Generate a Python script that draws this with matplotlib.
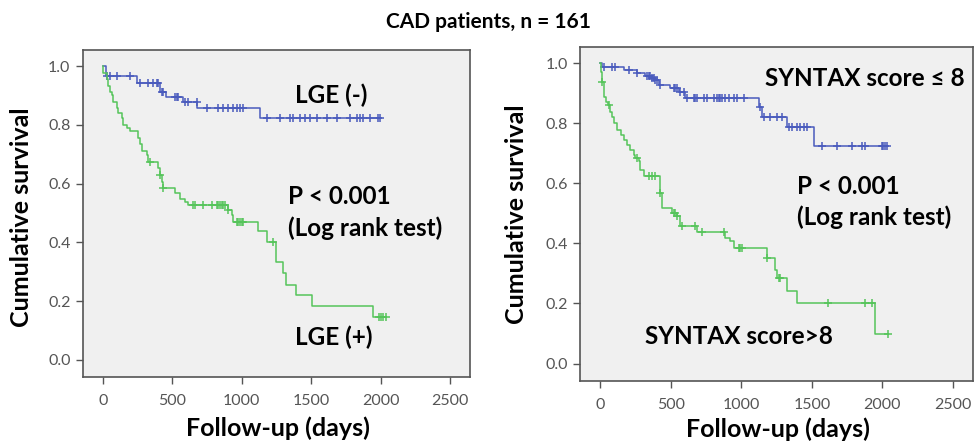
import numpy as np
import matplotlib
matplotlib.use('Agg')
import matplotlib.pyplot as plt

plt.rcParams['font.family'] = ['Lato', 'DejaVu Sans']

TITLE = 'CAD patients, n = 161'
X_TICKS = [0, 500, 1000, 1500, 2000, 2500]
Y_TICKS = [0.0, 0.2, 0.4, 0.6, 0.8, 1.0]

# left panel: LGE (-) / LGE (+)
LGE_NEG_EVENT_DAYS = [20, 243, 411, 454, 579, 680, 1131]
LGE_NEG_SURV = [0.967, 0.941, 0.913, 0.896, 0.879, 0.856, 0.822]
LGE_NEG_CENSOR = [26, 50, 98, 194, 266, 326, 363, 387, 399, 422, 435, 519, 531,
                  543, 591, 615, 675, 747, 831, 867, 903, 939, 963, 987, 1011,
                  1179, 1275, 1347, 1371, 1419, 1455, 1491, 1539, 1611, 1683,
                  1779, 1827, 1851, 1876, 1924, 1984, 1995]

LGE_POS_EVENT_DAYS = [3, 26, 38, 50, 62, 74, 98, 110, 134, 146, 170, 194, 250,
                      266, 278, 314, 326, 395, 411, 422, 435, 519, 555, 591,
                      615, 903, 927, 939, 1119, 1179, 1245, 1299, 1317, 1389,
                      1509, 1948]
LGE_POS_SURV = [0.978, 0.956, 0.933, 0.911, 0.900, 0.878, 0.856, 0.839, 0.822,
                0.800, 0.789, 0.778, 0.756, 0.734, 0.711, 0.697, 0.675, 0.652,
                0.630, 0.607, 0.584, 0.567, 0.549, 0.539, 0.527, 0.510, 0.493,
                0.470, 0.437, 0.402, 0.332, 0.295, 0.255, 0.221, 0.184, 0.147]
LGE_POS_CENSOR = [338, 411, 435, 651, 663, 723, 783, 819, 831, 843, 855, 867,
                  879, 903, 963, 975, 987, 999, 1011, 1227, 1985, 2000, 2015,
                  2040]

# right panel: SYNTAX score <= 8 / > 8
SYN_LOW_EVENT_DAYS = [8, 165, 260, 319, 366, 390, 413, 496, 555, 602, 1121,
                      1145, 1322, 1511]
SYN_LOW_SURV = [0.989, 0.978, 0.967, 0.956, 0.950, 0.944, 0.928, 0.917, 0.906,
                0.883, 0.856, 0.822, 0.789, 0.723]
SYN_LOW_CENSOR = [23, 83, 106, 201, 260, 331, 342, 354, 366, 378, 390, 401,
                  425, 519, 531, 543, 567, 590, 614, 661, 673, 685, 732, 755,
                  803, 826, 838, 850, 861, 885, 909, 944, 968, 1015, 1133, 1157,
                  1204, 1251, 1287, 1334, 1357, 1393, 1416, 1440, 1464, 1570,
                  1676, 1782, 1853, 1877, 1995, 2007, 2019, 2030]

SYN_HIGH_EVENT_DAYS = [5, 14, 28, 40, 52, 64, 83, 94, 118, 142, 165, 189, 212,
                       236, 248, 272, 283, 307, 425, 437, 508, 543, 567, 685,
                       885, 921, 944, 1180, 1239, 1251, 1322, 1393, 1947]
SYN_HIGH_SURV = [0.972, 0.939, 0.889, 0.872, 0.861, 0.839, 0.822, 0.800, 0.778,
                 0.761, 0.744, 0.728, 0.711, 0.695, 0.684, 0.673, 0.645, 0.623,
                 0.568, 0.518, 0.501, 0.490, 0.457, 0.437, 0.418, 0.407, 0.385,
                 0.352, 0.312, 0.285, 0.241, 0.201, 0.100]
SYN_HIGH_CENSOR = [14, 60, 260, 342, 366, 390, 425, 519, 531, 543, 578, 673,
                   720, 873, 980, 992, 1004, 1180, 1263, 1275, 1617, 1877, 1924,
                   2042]

BLUE = '#4a5bbd'
GREEN = '#55c45a'


def km_curve(ax, event_days, surv, censor, color):
    end = max(max(censor), max(event_days))
    t = np.concatenate([[0], event_days, [end]])
    s = np.concatenate([[1.0], surv, [surv[-1]]])
    ax.step(t, s, where='post', color=color, lw=1.1)
    idx = np.searchsorted(t, censor, side='right') - 1
    ax.plot(censor, s[idx], ls='none', marker='+', ms=5.5, mew=1.1, color=color)


def style_axes(ax):
    ax.set_facecolor('#f0f0f0')
    ax.set_xlim(-143, 2643)
    ax.set_ylim(-0.058, 1.054)
    ax.set_xticks(X_TICKS)
    ax.set_yticks(Y_TICKS)
    ax.set_yticklabels(['%.1f' % v for v in Y_TICKS])
    ax.tick_params(labelsize=11.5, colors='#555555', length=5, width=1)
    ax.tick_params(axis='x', pad=7)
    ax.tick_params(axis='y', pad=4)
    for sp in ax.spines.values():
        sp.set_color('#555555')
        sp.set_linewidth(1.2)
    ax.set_xlabel('Follow-up (days)', fontsize=18, fontweight='bold')
    ax.set_ylabel('Cumulative survival', fontsize=18, fontweight='bold')


fig = plt.figure(figsize=(9.77, 4.44), dpi=100)
ax1 = fig.add_axes([0.085, 0.151, 0.396, 0.736])
ax2 = fig.add_axes([0.594, 0.142, 0.402, 0.752])

km_curve(ax1, LGE_NEG_EVENT_DAYS, LGE_NEG_SURV, LGE_NEG_CENSOR, BLUE)
km_curve(ax1, LGE_POS_EVENT_DAYS, LGE_POS_SURV, LGE_POS_CENSOR, GREEN)
km_curve(ax2, SYN_LOW_EVENT_DAYS, SYN_LOW_SURV, SYN_LOW_CENSOR, BLUE)
km_curve(ax2, SYN_HIGH_EVENT_DAYS, SYN_HIGH_SURV, SYN_HIGH_CENSOR, GREEN)

for ax in (ax1, ax2):
    style_axes(ax)

ax1.yaxis.set_label_coords(-0.13, 0.49)
ax1.xaxis.set_label_coords(0.504, -0.12)
ax2.yaxis.set_label_coords(-0.133, 0.5)
ax2.xaxis.set_label_coords(0.504, -0.11)

txt = dict(fontsize=17.5, fontweight='bold', ha='left', va='center')
ax1.text(1383, 0.90, 'LGE (-)', **txt)
ax1.text(1333, 0.555, 'P < 0.001', **txt)
ax1.text(1333, 0.449, '(Log rank test)', **txt)
ax1.text(1383, 0.078, 'LGE (+)', **txt)
ax2.text(1169, 0.948, 'SYNTAX score \u2264 8', **txt)
ax2.text(1395, 0.589, 'P < 0.001', **txt)
ax2.text(1395, 0.489, '(Log rank test)', **txt)
ax2.text(319, 0.090, 'SYNTAX score>8', **txt)

fig.text(0.5, 0.95, TITLE, ha='center', va='center', fontsize=15,
         fontweight='bold')

fig.savefig('out.png', dpi=100)
